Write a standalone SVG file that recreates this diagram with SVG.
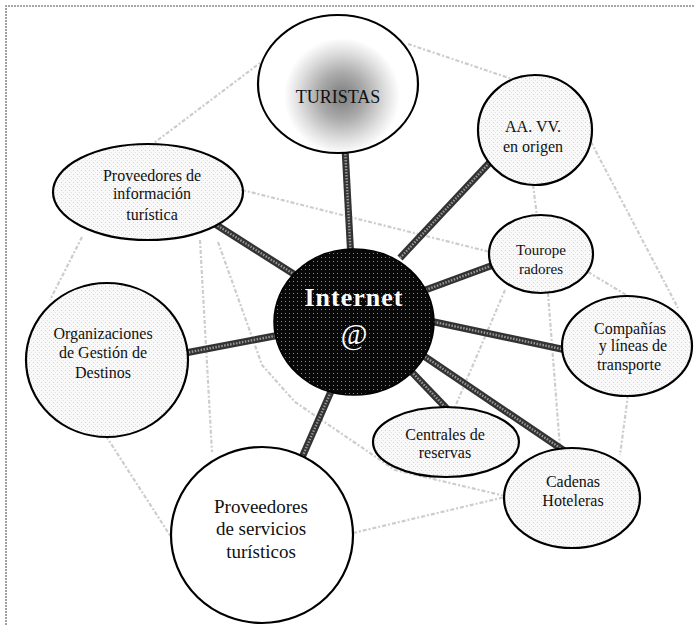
<svg xmlns="http://www.w3.org/2000/svg" width="695" height="625" viewBox="0 0 695 625">
<style>
.t{font-family:"Liberation Serif","Times New Roman",serif;fill:#111;text-anchor:middle}
.node{stroke:#000;stroke-width:2.2}
.lite{fill:url(#stip)}
.faint{stroke:#cdcdcd;stroke-width:2.2;stroke-dasharray:4 2 2 2;fill:none}
.bar{stroke:#333;stroke-width:7;stroke-linecap:butt}
.barin{stroke:#999;stroke-width:2.4;stroke-dasharray:1.5 1.5}
</style>
<defs>
<pattern id="stip" width="4" height="4" patternUnits="userSpaceOnUse">
<rect width="4" height="4" fill="#f9f9f9"/>
<rect x="1" y="2" width="1" height="1" fill="#cfcfcf"/>
<rect x="3" y="0" width="1" height="1" fill="#e0e0e0"/>
</pattern>
<pattern id="net" width="4" height="4" patternUnits="userSpaceOnUse">
<rect width="4" height="4" fill="#080808"/>
<rect x="1" y="1" width="1" height="1" fill="#8a8a8a"/>
</pattern>
<radialGradient id="tur" gradientUnits="userSpaceOnUse" cx="342" cy="96" r="58">
<stop offset="0" stop-color="#7d7d7d"/>
<stop offset="0.4" stop-color="#aaaaaa"/>
<stop offset="0.75" stop-color="#dedede"/>
<stop offset="1" stop-color="#ffffff"/>
</radialGradient>
</defs>

<rect width="695" height="625" fill="#fff"/>
<path d="M6 625 V6 H695" fill="none" stroke="#8a8a8a" stroke-width="1.6" stroke-dasharray="2 1"/>

<g id="connectors">
<g id="faint-links">
<line class="faint" x1="150" y1="146" x2="264" y2="60"/>
<line class="faint" x1="408" y1="44" x2="515" y2="80"/>
<line class="faint" x1="533" y1="185" x2="537" y2="216"/>
<line class="faint" x1="591" y1="142" x2="678" y2="308"/>
<line class="faint" x1="588" y1="272" x2="628" y2="296"/>
<line class="faint" x1="242" y1="190" x2="490" y2="252"/>
<line class="faint" x1="82" y1="237" x2="50" y2="300"/>
<line class="faint" x1="106" y1="436" x2="173" y2="540"/>
<line class="faint" x1="200" y1="240" x2="212" y2="452"/>
<polyline class="faint" points="218,242 262,365 295,402 395,470 505,496"/>
<line class="faint" x1="353" y1="533" x2="505" y2="497"/>
<line class="faint" x1="505" y1="290" x2="455" y2="407"/>
<line class="faint" x1="548" y1="293" x2="560" y2="448"/>
<line class="faint" x1="628" y1="395" x2="620" y2="455"/>
</g>
<g id="main-links">
<line class="bar" x1="345" y1="148" x2="351" y2="260"/>
<line class="barin" x1="345" y1="148" x2="351" y2="260"/>
<line class="bar" x1="400" y1="258" x2="492" y2="160"/>
<line class="barin" x1="400" y1="258" x2="492" y2="160"/>
<line class="bar" x1="215" y1="224" x2="300" y2="278"/>
<line class="barin" x1="215" y1="224" x2="300" y2="278"/>
<line class="bar" x1="180" y1="354" x2="285" y2="334"/>
<line class="barin" x1="180" y1="354" x2="285" y2="334"/>
<line class="bar" x1="300" y1="462" x2="336" y2="380"/>
<line class="barin" x1="300" y1="462" x2="336" y2="380"/>
<line class="bar" x1="405" y1="365" x2="450" y2="412"/>
<line class="barin" x1="405" y1="365" x2="450" y2="412"/>
<line class="bar" x1="415" y1="350" x2="566" y2="452"/>
<line class="barin" x1="415" y1="350" x2="566" y2="452"/>
<line class="bar" x1="425" y1="320" x2="566" y2="350"/>
<line class="barin" x1="425" y1="320" x2="566" y2="350"/>
<line class="bar" x1="420" y1="292" x2="496" y2="264"/>
<line class="barin" x1="420" y1="292" x2="496" y2="264"/>
</g>
</g>

<g id="turistas">
<ellipse class="node" cx="338" cy="84" rx="80" ry="69" fill="url(#tur)"/>
<text class="t" x="338" y="103" font-size="18">TURISTAS</text>
</g>

<g id="aavv">
<ellipse class="node lite" cx="535" cy="130" rx="57" ry="55"/>
<text class="t" x="533" y="132" font-size="16">AA. VV.</text>
<text class="t" x="533" y="152" font-size="16">en origen</text>
</g>

<g id="prov-info">
<ellipse class="node lite" cx="148" cy="192" rx="95" ry="48"/>
<text class="t" x="152" y="181" font-size="16">Proveedores de</text>
<text class="t" x="152" y="199" font-size="16">información</text>
<text class="t" x="152" y="220" font-size="16">turística</text>
</g>

<g id="touroperadores">
<ellipse class="node lite" cx="541" cy="254" rx="52" ry="39"/>
<text class="t" x="541" y="255" font-size="15">Tourope</text>
<text class="t" x="541" y="274" font-size="15">radores</text>
</g>

<g id="organizaciones">
<ellipse class="node lite" cx="107" cy="360" rx="81" ry="77"/>
<text class="t" x="103" y="339" font-size="16">Organizaciones</text>
<text class="t" x="103" y="358" font-size="16">de Gestión de</text>
<text class="t" x="103" y="378" font-size="16">Destinos</text>
</g>

<g id="companias">
<ellipse class="node lite" cx="627" cy="346" rx="65" ry="50"/>
<text class="t" x="630" y="334" font-size="16">Compañías</text>
<text class="t" x="633" y="351" font-size="16">y  líneas de</text>
<text class="t" x="629" y="370" font-size="16">transporte</text>
</g>

<g id="centrales">
<ellipse class="node lite" cx="446" cy="442" rx="73" ry="35"/>
<text class="t" x="445" y="440" font-size="16">Centrales de</text>
<text class="t" x="445" y="458" font-size="16">reservas</text>
</g>

<g id="cadenas">
<ellipse class="node lite" cx="572" cy="498" rx="68" ry="50"/>
<text class="t" x="573" y="487" font-size="16">Cadenas</text>
<text class="t" x="573" y="506" font-size="16">Hoteleras</text>
</g>

<g id="prov-servicios">
<ellipse class="node" cx="262" cy="535" rx="91" ry="88" fill="#fff"/>
<text class="t" x="261" y="513" font-size="19">Proveedores</text>
<text class="t" x="261" y="535" font-size="19">de servicios</text>
<text class="t" x="261" y="558" font-size="19">turísticos</text>
</g>

<g id="internet">
<ellipse cx="354" cy="322" rx="80" ry="73" fill="url(#net)" stroke="#000" stroke-width="1.5"/>
<text class="t" x="354" y="306" font-size="26" font-weight="bold" style="fill:#fff" letter-spacing="1">Internet</text>
<text class="t" x="354" y="344" font-size="29" style="fill:#fff">@</text>
</g>
</svg>
